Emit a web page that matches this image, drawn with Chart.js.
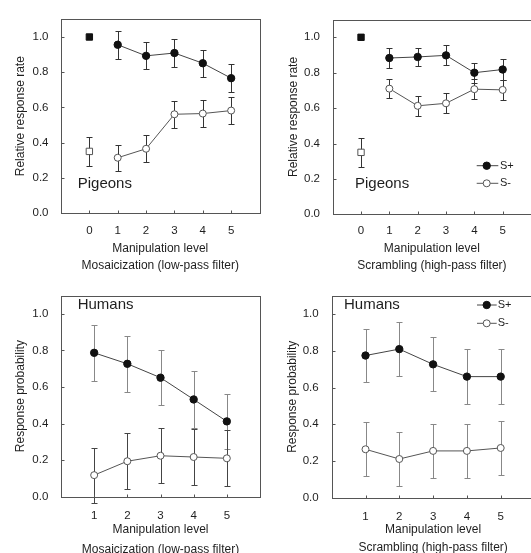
<!DOCTYPE html>
<html>
<head>
<meta charset="utf-8">
<script src="https://cdn.jsdelivr.net/npm/chart.js@4.4.1/dist/chart.umd.min.js"></script>
<style>
  html, body { margin: 0; padding: 0; background: #fff; overflow: hidden; width: 531px; height: 553px; }
  canvas { position: absolute; }
</style>
</head>
<body>
<canvas id="pigMos" width="265" height="276" style="left:0;top:0"></canvas>
<canvas id="pigScr" width="275" height="276" style="left:265px;top:0"></canvas>
<canvas id="humMos" width="265" height="290" style="left:0;top:276px"></canvas>
<canvas id="humScr" width="275" height="290" style="left:265px;top:276px"></canvas>
<script>
// niveaux et graduations
const manipLevels = [1, 2, 3, 4, 5];
const controlLevel = [0];
const pigeonTicksX = [0, 1, 2, 3, 4, 5];
const humanTicksX = [1, 2, 3, 4, 5];
const yTicks = [0, 0.2, 0.4, 0.6, 0.8, 1.0];

// Pigeons - mosaicization
const pigMosPlus = [0.956, 0.893, 0.909, 0.851, 0.766];
const pigMosPlusErr = [0.079, 0.077, 0.079, 0.076, 0.078];
const pigMosMinus = [0.314, 0.365, 0.561, 0.565, 0.582];
const pigMosMinusErr = [0.075, 0.078, 0.078, 0.078, 0.077];
const pigMosCtrlPlus = [1.0];
const pigMosCtrlMinus = [0.35];
const pigMosCtrlMinusErr = [0.083];

// Pigeons - scrambling
const pigScrPlus = [0.883, 0.889, 0.898, 0.800, 0.818];
const pigScrPlusErr = [0.055, 0.053, 0.057, 0.057, 0.058];
const pigScrMinus = [0.710, 0.613, 0.627, 0.707, 0.703];
const pigScrMinusErr = [0.055, 0.055, 0.056, 0.058, 0.057];
const pigScrCtrlPlus = [1.0];
const pigScrCtrlMinus = [0.35];
const pigScrCtrlMinusErr = [0.082];

// Humains - mosaicization
const humMosPlus = [0.787, 0.727, 0.651, 0.532, 0.412];
const humMosPlusErr = [0.152, 0.154, 0.152, 0.154, 0.152];
const humMosMinus = [0.118, 0.194, 0.224, 0.217, 0.210];
const humMosMinusErr = [0.150, 0.154, 0.150, 0.151, 0.154];

// Humains - scrambling
const humScrPlus = [0.775, 0.810, 0.727, 0.660, 0.660];
const humScrPlusErr = [0.146, 0.146, 0.148, 0.148, 0.148];
const humScrMinus = [0.264, 0.211, 0.255, 0.255, 0.271];
const humScrMinusErr = [0.146, 0.146, 0.146, 0.146, 0.145];

const FONT = '"Liberation Sans", Arial, sans-serif';
const TXT = '#1e1e1e';

function pts(xs, ys) {
    return ys.map((v, i) => ({ x: xs[i], y: v }));
}

function plusLine(values, errors, errColor) {
    return {
        label: 'S+', data: pts(manipLevels, values), errors: errors, errorColor: errColor,
        showLine: true, borderColor: '#444', borderWidth: 1, tension: 0,
        pointStyle: 'circle', pointRadius: 3.7, pointBackgroundColor: '#111',
        pointBorderColor: '#111', pointBorderWidth: 1
    };
}

function minusLine(values, errors, errColor) {
    return {
        label: 'S-', data: pts(manipLevels, values), errors: errors, errorColor: errColor,
        showLine: true, borderColor: '#555', borderWidth: 1, tension: 0,
        pointStyle: 'circle', pointRadius: 3.5, pointBackgroundColor: '#fff',
        pointBorderColor: '#555', pointBorderWidth: 1
    };
}

function ctrlPoint(values, errors, filled) {
    return {
        label: 'ctrl', data: pts(controlLevel, values), errors: errors, errorColor: '#333',
        showLine: false, pointStyle: 'rect', pointRadius: 4.5,
        pointBackgroundColor: filled ? '#111' : '#fff',
        pointBorderColor: filled ? '#111' : '#555', pointBorderWidth: 1
    };
}

/**
 * Cadre, graduations internes, barres d'erreur, étiquette et légende
 */
const decor = {
    id: 'decor',
    beforeDatasetsDraw(chart) {
        const ctx = chart.ctx;
        const ys = chart.scales.y;
        chart.data.datasets.forEach((ds, i) => {
            if (!ds.errors) return;
            const meta = chart.getDatasetMeta(i);
            ctx.save();
            ctx.strokeStyle = ds.errorColor;
            ctx.lineWidth = 1;
            meta.data.forEach((pt, j) => {
                const e = ds.errors[j];
                if (!e) return;
                const v = ds.data[j].y;
                const x = Math.round(pt.x) + 0.5;
                const top = Math.round(ys.getPixelForValue(v + e)) + 0.5;
                const bot = Math.round(ys.getPixelForValue(v - e)) + 0.5;
                ctx.beginPath();
                ctx.moveTo(x, top); ctx.lineTo(x, bot);
                ctx.moveTo(x - 3, top); ctx.lineTo(x + 3, top);
                ctx.moveTo(x - 3, bot); ctx.lineTo(x + 3, bot);
                ctx.stroke();
            });
            ctx.restore();
        });
    },
    afterDraw(chart, args, opts) {
        const ctx = chart.ctx;
        const a = chart.chartArea;
        const xs = chart.scales.x, ys = chart.scales.y;
        const l = Math.round(a.left) + 0.5, r = Math.round(a.right) + 0.5;
        const t = Math.round(a.top) + 0.5, b = Math.round(a.bottom) + 0.5;
        ctx.save();
        ctx.strokeStyle = '#555';
        ctx.lineWidth = 1;
        ctx.strokeRect(l, t, r - l, b - t);
        ctx.beginPath();
        xs.ticks.forEach(tk => {
            const x = Math.round(xs.getPixelForValue(tk.value)) + 0.5;
            ctx.moveTo(x, b); ctx.lineTo(x, b - 3);
        });
        ys.ticks.forEach(tk => {
            const y = Math.round(ys.getPixelForValue(tk.value)) + 0.5;
            ctx.moveTo(l, y); ctx.lineTo(l + 3, y);
        });
        ctx.stroke();

        ctx.fillStyle = TXT;
        ctx.font = '15px ' + FONT;
        ctx.textBaseline = 'middle';
        ctx.textAlign = 'left';
        ctx.fillText(opts.label, opts.labelX, opts.labelY);

        if (opts.legend) {
            const lg = opts.legend;
            ctx.font = '11px ' + FONT;
            [0, 1].forEach(k => {
                const ds = chart.data.datasets[k];
                const y = lg.y[k];
                ctx.strokeStyle = ds.borderColor;
                ctx.beginPath();
                ctx.moveTo(lg.x0, y); ctx.lineTo(lg.x1, y);
                ctx.stroke();
                ctx.beginPath();
                ctx.arc(lg.xm, y, ds.pointRadius, 0, Math.PI * 2);
                ctx.fillStyle = ds.pointBackgroundColor;
                ctx.fill();
                ctx.strokeStyle = ds.pointBorderColor;
                ctx.stroke();
                ctx.fillStyle = TXT;
                ctx.fillText(ds.label, lg.xt, y);
            });
        }
        ctx.restore();
    }
};

function makePanel(id, p, datasets) {
    new Chart(document.getElementById(id), {
        type: 'line',
        data: { datasets: datasets },
        options: {
            responsive: false,
            animation: false,
            events: [],
            layout: { padding: { left: 0, top: p.padTop, right: p.padRight, bottom: 0 } },
            plugins: {
                legend: { display: false },
                tooltip: { enabled: false },
                decor: { label: p.label, labelX: p.labelX, labelY: p.labelY, legend: p.legend }
            },
            scales: {
                x: {
                    type: 'linear', min: p.xMin, max: 6,
                    afterBuildTicks: s => { s.ticks = p.xTicks.map(v => ({ value: v })); },
                    afterFit: s => { s.height = p.xAxisH; },
                    grid: { display: false, drawTicks: false },
                    border: { display: false },
                    ticks: {
                        autoSkip: false, maxRotation: 0, padding: p.xTickPad, color: TXT,
                        font: { family: FONT, size: 11.5 },
                        callback: v => String(v)
                    },
                    title: {
                        display: true, text: p.xTitle, color: TXT,
                        font: { family: FONT, size: 12, lineHeight: p.xTitleLH / 12 },
                        padding: { top: 0, bottom: p.xTitlePad }
                    }
                },
                y: {
                    min: 0, max: 1.1,
                    afterBuildTicks: s => { s.ticks = yTicks.map(v => ({ value: v })); },
                    afterFit: s => { s.width = p.yAxisW; },
                    grid: { display: false, drawTicks: false },
                    border: { display: false },
                    ticks: {
                        padding: p.yTickPad, color: TXT,
                        font: { family: FONT, size: 11.5 },
                        callback: v => v.toFixed(1)
                    },
                    title: {
                        display: true, text: p.yTitle, color: TXT,
                        font: { family: FONT, size: 12, lineHeight: 1.2 },
                        padding: { top: p.yTitlePad, bottom: 0 }
                    }
                }
            }
        },
        plugins: [decor]
    });
}

makePanel('pigMos', {
    xMin: -1, xTicks: pigeonTicksX, padTop: 4, padRight: 5, yAxisW: 61, xAxisH: 63,
    xTickPad: 11, yTickPad: 12.5, yTitlePad: 13.5,
    yTitle: 'Relative response rate',
    xTitle: ['Manipulation level', 'Mosaicization (low-pass filter)'], xTitleLH: 16.7, xTitlePad: 2,
    label: 'Pigeons', labelX: 77.7, labelY: 184, legend: null
}, [
    plusLine(pigMosPlus, pigMosPlusErr, '#333'),
    minusLine(pigMosMinus, pigMosMinusErr, '#333'),
    ctrlPoint(pigMosCtrlPlus, null, true),
    ctrlPoint(pigMosCtrlMinus, pigMosCtrlMinusErr, false)
]);

makePanel('pigScr', {
    xMin: -1, xTicks: pigeonTicksX, padTop: 6.7, padRight: 9, yAxisW: 67.7, xAxisH: 61.7,
    xTickPad: 9.8, yTickPad: 12.7, yTitlePad: 21.5,
    yTitle: 'Relative response rate',
    xTitle: ['Manipulation level', 'Scrambling (high-pass filter)'], xTitleLH: 16.7, xTitlePad: 2,
    label: 'Pigeons', labelX: 90, labelY: 184,
    legend: { x0: 211.7, x1: 233.3, xm: 221.7, xt: 235, y: [165.7, 183.3] }
}, [
    plusLine(pigScrPlus, pigScrPlusErr, '#333'),
    minusLine(pigScrMinus, pigScrMinusErr, '#333'),
    ctrlPoint(pigScrCtrlPlus, null, true),
    ctrlPoint(pigScrCtrlMinus, pigScrCtrlMinusErr, false)
]);

makePanel('humMos', {
    xMin: 0, xTicks: humanTicksX, padTop: 12.3, padRight: 3, yAxisW: 61, xAxisH: 69.3,
    xTickPad: 12.7, yTickPad: 12.7, yTitlePad: 13.5,
    yTitle: 'Response probability',
    xTitle: ['Manipulation level', 'Mosaicization (low-pass filter)'], xTitleLH: 19.4, xTitlePad: 7.1,
    label: 'Humans', labelX: 77.7, labelY: 29, legend: null
}, [
    plusLine(humMosPlus, humMosPlusErr, '#888'),
    minusLine(humMosMinus, humMosMinusErr, '#444')
]);

makePanel('humScr', {
    xMin: 0, xTicks: humanTicksX, padTop: 12.3, padRight: 5.5, yAxisW: 66.7, xAxisH: 68.3,
    xTickPad: 12.2, yTickPad: 13, yTitlePad: 20,
    yTitle: 'Response probability',
    xTitle: ['Manipulation level', 'Scrambling (high-pass filter)'], xTitleLH: 17.6, xTitlePad: 9.9,
    label: 'Humans', labelX: 79, labelY: 29,
    legend: { x0: 212, x1: 231.7, xm: 221.7, xt: 232.7, y: [29, 47.3] }
}, [
    plusLine(humScrPlus, humScrPlusErr, '#888'),
    minusLine(humScrMinus, humScrMinusErr, '#888')
]);
</script>
</body>
</html>
